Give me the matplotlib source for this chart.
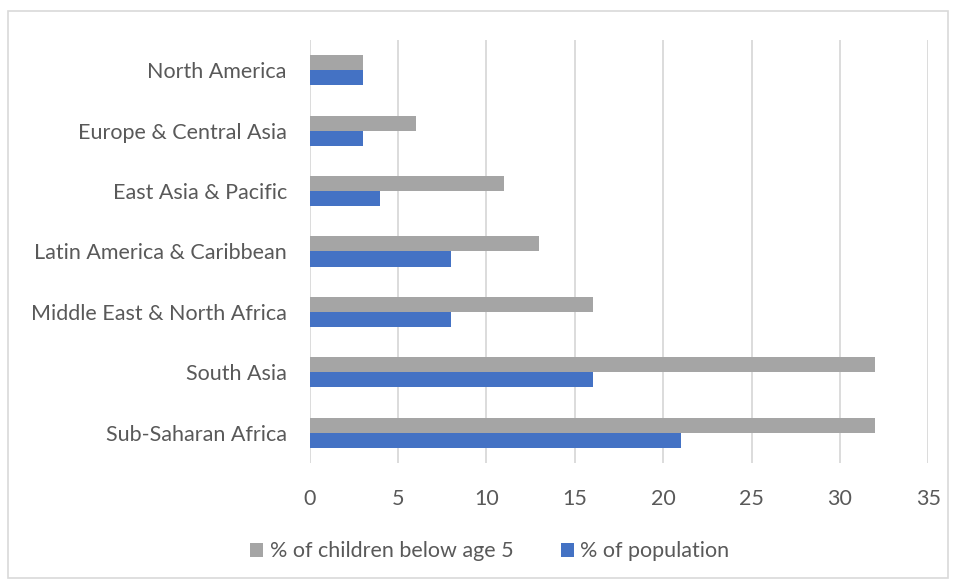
import numpy as np
import matplotlib.pyplot as plt
from matplotlib.patches import Rectangle

regions = ['Sub-Saharan Africa', 'South Asia', 'Middle East & North Africa',
           'Latin America & Caribbean', 'East Asia & Pacific',
           'Europe & Central Asia', 'North America']
children = [32, 32, 16, 13, 11, 6, 3]
population = [21, 16, 8, 8, 4, 3, 3]

gray = '#a5a5a5'
blue = '#4472c4'
txt = '#595959'

plt.rcParams['font.family'] = ['Lato', 'DejaVu Sans']

fig = plt.figure(figsize=(9.56, 5.8), dpi=100)
ax = fig.add_axes([0.324, 0.202, 0.647, 0.729])

y = np.arange(len(regions))
h = 0.25
ax.barh(y + h / 2, children, height=h, color=gray, label='% of children below age 5', zorder=3)
ax.barh(y - h / 2, population, height=h, color=blue, label='% of population', zorder=3)

ax.set_xlim(0, 35)
ax.set_ylim(-0.5, len(regions) - 0.5)
ax.set_xticks(range(0, 36, 5))
ax.set_yticks(y)
ax.set_yticklabels(regions)
ax.grid(axis='x', color='#d9d9d9', linewidth=1.3, zorder=0)
for s in ax.spines.values():
    s.set_visible(False)
ax.tick_params(length=0, labelsize=15.5, colors=txt)
ax.tick_params(axis='x', pad=19)
ax.tick_params(axis='y', pad=16.5)

ax.legend(loc='upper center', bbox_to_anchor=(0.291, -0.14), ncol=2, frameon=False,
          fontsize=15.5, labelcolor=txt, handlelength=0.6, handleheight=0.6,
          handletextpad=0.3, columnspacing=2.2)

fig.patches.append(Rectangle((8 / 956, 1 - 578 / 580), 940 / 956, 567 / 580,
                             transform=fig.transFigure, fill=False,
                             edgecolor='#d9d9d9', linewidth=1.2))

fig.savefig('out.png', dpi=100)
